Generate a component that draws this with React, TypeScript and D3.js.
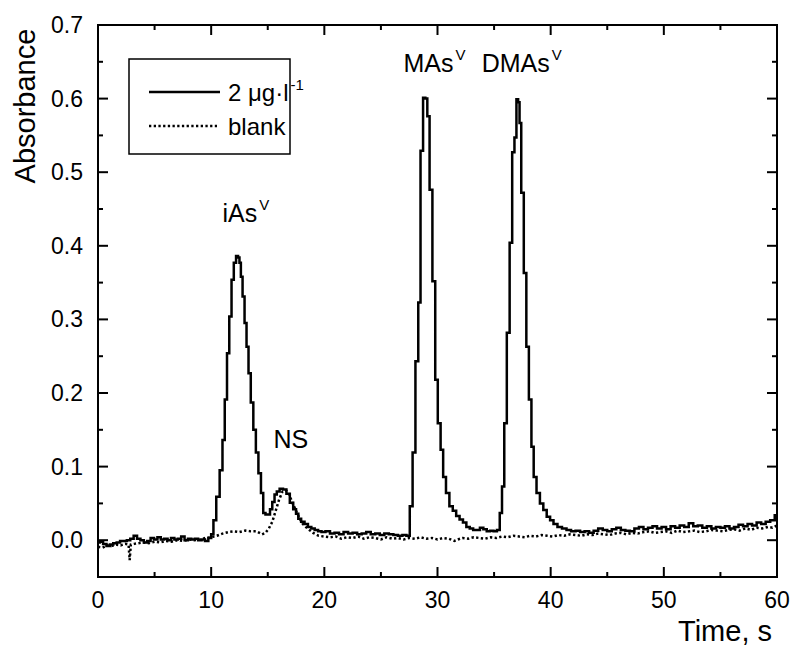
import React from "react";
import * as d3 from "d3";

// ---- data ----
const sampleTime = [
  0, 0.3, 0.6, 0.9, 1.2, 1.5, 1.8, 2.1, 2.4, 2.7, 3.0, 3.3, 3.6, 3.9, 4.2, 4.5, 4.8, 5.1, 5.4, 5.7,
  6.0, 6.3, 6.6, 6.9, 7.2, 7.5, 7.8, 8.1, 8.4, 8.7, 9.0, 9.3, 9.6, 9.9,
  10.1, 10.3, 10.6, 10.9, 11.1, 11.3, 11.5, 11.7, 11.9, 12.1, 12.3, 12.45, 12.55, 12.7, 12.85, 13.05,
  13.2, 13.4, 13.6, 13.85, 14.05, 14.3, 14.5, 14.7, 14.9, 15.1, 15.3, 15.5, 15.7, 15.9, 16.2, 16.5,
  16.8, 17.1, 17.4, 17.6, 17.8, 18.1, 18.4, 18.7, 19.0, 19.3, 19.6, 19.9, 20.3, 20.7, 21.1, 21.5,
  21.9, 22.3, 22.7, 23.1, 23.5, 23.9, 24.3, 24.7, 25.1, 25.5, 25.9, 26.3, 26.7, 27.1, 27.4,
  27.7, 27.9, 28.2, 28.4, 28.6, 28.85, 29.0, 29.2, 29.4, 29.7, 29.9, 30.15, 30.4, 30.6, 30.9, 31.2,
  31.5, 31.8, 32.1, 32.4, 32.7, 33.0, 33.3, 33.6, 33.9, 34.2, 34.5, 34.8, 35.1, 35.4,
  35.6, 35.8, 36.0, 36.25, 36.5, 36.7, 36.9, 37.05, 37.2, 37.3, 37.5, 37.75, 37.95, 38.2, 38.4, 38.6,
  38.9, 39.2, 39.5, 39.8, 40.1, 40.4, 40.8, 41.2, 41.6, 42.0, 42.4, 42.8, 43.2, 43.6, 44.0, 44.4,
  44.8, 45.2, 45.6, 46.0, 46.4, 46.8, 47.2, 47.6, 48.0, 48.4, 48.8, 49.2, 49.6, 50.0, 50.4, 50.8,
  51.2, 51.6, 52.0, 52.4, 52.8, 53.2, 53.6, 54.0, 54.4, 54.8, 55.2, 55.6, 56.0, 56.4, 56.8, 57.2,
  57.6, 58.0, 58.4, 58.8, 59.2, 59.6, 60.0,
];
const sampleAbs = [
  -0.003, -0.002, -0.005, -0.008, -0.006, -0.004, -0.003, -0.001, -0.001, 0.0, 0.002, 0.006, 0.002, 0.0, -0.003, -0.001, 0.003, 0.001, 0.004, 0.001,
  0.002, 0.0, 0.003, 0.001, 0.002, 0.005, 0.0, 0.002, 0.001, 0.002, 0.0, 0.001, -0.001, 0.003,
  0.008, 0.027, 0.059, 0.095, 0.136, 0.191, 0.254, 0.304, 0.354, 0.377, 0.386, 0.384, 0.377, 0.358, 0.331, 0.295,
  0.263, 0.227, 0.187, 0.15, 0.119, 0.091, 0.064, 0.037, 0.035, 0.035, 0.042, 0.052, 0.062, 0.066, 0.07, 0.069,
  0.063, 0.051, 0.042, 0.036, 0.029, 0.025, 0.022, 0.018, 0.016, 0.014, 0.012, 0.011, 0.012, 0.009, 0.01, 0.008,
  0.011, 0.009, 0.01, 0.008, 0.009, 0.011, 0.008, 0.009, 0.007, 0.009, 0.008, 0.007, 0.006, 0.007, 0.006,
  0.046, 0.119, 0.243, 0.323, 0.529, 0.601, 0.6, 0.576, 0.476, 0.352, 0.218, 0.159, 0.123, 0.086, 0.064, 0.046,
  0.04, 0.033, 0.028, 0.024, 0.018, 0.016, 0.014, 0.014, 0.017, 0.015, 0.012, 0.013, 0.012, 0.014,
  0.037, 0.073, 0.159, 0.282, 0.404, 0.527, 0.547, 0.599, 0.595, 0.567, 0.472, 0.363, 0.263, 0.191, 0.127, 0.086,
  0.064, 0.05, 0.041, 0.032, 0.027, 0.022, 0.018, 0.016, 0.014, 0.012, 0.013, 0.011, 0.012, 0.01, 0.013, 0.016,
  0.014, 0.012, 0.015, 0.017, 0.014, 0.013, 0.012, 0.016, 0.018, 0.015, 0.017, 0.019, 0.016, 0.018, 0.015, 0.019,
  0.017, 0.02, 0.018, 0.023, 0.019, 0.02, 0.017, 0.019, 0.016, 0.018, 0.017, 0.019, 0.016, 0.018, 0.021, 0.019,
  0.022, 0.02, 0.024, 0.022, 0.025, 0.027, 0.034,
];

const blankTime = [
  0, 0.4, 0.8, 1.2, 1.6, 2.0, 2.4, 2.7, 2.8, 2.9, 3.2, 3.6, 4.0, 4.5, 5.0, 5.5, 6.0, 6.5, 7.0, 7.5,
  8.0, 8.5, 9.0, 9.5, 10.0, 10.5, 11.0, 11.5, 12.0, 12.5, 13.0, 13.5, 14.0, 14.5, 14.8, 15.1, 15.4,
  15.7, 16.0, 16.3, 16.6, 16.9, 17.2, 17.5, 17.8, 18.1, 18.5, 19.0, 19.5, 20.0, 20.5, 21.0, 21.5,
  22.0, 22.5, 23.0, 23.5, 24.0, 24.5, 25.0, 25.5, 26.0, 26.5, 27.0, 27.5, 28.0, 28.5, 29.0, 29.5,
  30.0, 30.5, 31.0, 31.5, 31.8, 32.2, 32.7, 33.2, 33.7, 34.2, 34.7, 35.2, 35.7, 36.2, 36.7, 37.2,
  37.7, 38.2, 38.7, 39.2, 39.7, 40.2, 40.7, 41.2, 41.7, 42.2, 42.7, 43.2, 43.7, 44.2, 44.7, 45.2,
  45.7, 46.2, 46.7, 47.2, 47.7, 48.2, 48.7, 49.2, 49.7, 50.2, 50.7, 51.2, 51.7, 52.2, 52.7, 53.2,
  53.7, 54.2, 54.7, 55.2, 55.7, 56.2, 56.7, 57.2, 57.7, 58.2, 58.7, 59.2, 59.6, 60.0,
];
const blankAbs = [
  -0.009, -0.01, -0.007, -0.008, -0.006, -0.007, -0.005, -0.006, -0.027, -0.006, -0.005, -0.004, -0.003, -0.004, -0.002, -0.003, -0.001, -0.002, 0.0, -0.001,
  0.001, 0.0, 0.001, 0.003, 0.004, 0.006, 0.009, 0.011, 0.012, 0.011, 0.013, 0.012, 0.012, 0.008, 0.01, 0.016, 0.025,
  0.04, 0.055, 0.066, 0.068, 0.062, 0.05, 0.04, 0.03, 0.022, 0.016, 0.01, 0.006, 0.005, 0.004, 0.005, 0.002,
  0.004, 0.003, 0.005, 0.002, 0.004, 0.003, 0.001, 0.004, 0.002, 0.003, 0.001, 0.003, 0.002, 0.004, 0.002, 0.003,
  0.001, 0.003, 0.002, -0.001, 0.001, 0.003, 0.002, 0.004, 0.003, 0.002, 0.004, 0.003, 0.005, 0.004, 0.006, 0.005,
  0.004, 0.006, 0.005, 0.007, 0.006, 0.005, 0.007, 0.006, 0.008, 0.007, 0.006, 0.008, 0.007, 0.009, 0.008, 0.007,
  0.009, 0.01, 0.008, 0.01, 0.009, 0.011, 0.012, 0.01, 0.011, 0.012, 0.01, 0.013, 0.011, 0.012, 0.013, 0.011,
  0.012, 0.014, 0.013, 0.012, 0.014, 0.015, 0.013, 0.016, 0.014, 0.017, 0.016, 0.018, 0.017, 0.02,
];

const xMajorTicks = [0, 10, 20, 30, 40, 50, 60];
const xMinorTicks = [5, 15, 25, 35, 45, 55];
const yMajorTicks = [0, 0.1, 0.2, 0.3, 0.4, 0.5, 0.6, 0.7];
const yMinorTicks = [-0.05, 0.05, 0.15, 0.25, 0.35, 0.45, 0.55, 0.65];

const seriesLabels = ["2 μg·l", "blank"];
const peakLabels = [
  { name: "iAs", sup: "V", t: 11.0, v: 0.433 },
  { name: "NS", sup: "", t: 15.5, v: 0.125 },
  { name: "MAs", sup: "V", t: 27.0, v: 0.636 },
  { name: "DMAs", sup: "V", t: 33.9, v: 0.636 },
];

const FONT = "'Liberation Sans', Arial, Helvetica, sans-serif";

export default function App() {
  const W = 800;
  const H = 656;
  const left = 98;
  const right = 777;
  const top = 25;
  const bottom = 577;

  const x = d3.scaleLinear().domain([0, 60]).range([left, right]);
  const y = d3.scaleLinear().domain([-0.05, 0.7]).range([bottom, top]);

  const sample = sampleTime.map((t, i) => [t, sampleAbs[i]] as [number, number]);
  const blank = blankTime.map((t, i) => [t, blankAbs[i]] as [number, number]);

  const lineStep = d3
    .line<[number, number]>()
    .x((d) => x(d[0]))
    .y((d) => y(d[1]))
    .curve(d3.curveStep);
  const lineLin = d3
    .line<[number, number]>()
    .x((d) => x(d[0]))
    .y((d) => y(d[1]));

  const major = 10;
  const minor = 5;

  return (
    <svg
      width={W}
      height={H}
      style={{ position: "absolute", left: 0, top: 0, background: "#fff" }}
      fontFamily={FONT}
    >
      <rect x={0} y={0} width={W} height={H} fill="#fff" />
      <defs>
        <clipPath id="plot">
          <rect x={left} y={top} width={right - left} height={bottom - top} />
        </clipPath>
      </defs>

      {/* data */}
      <g clipPath="url(#plot)">
        <path
          d={lineLin(blank) || ""}
          fill="none"
          stroke="#000"
          strokeWidth={2.5}
          strokeDasharray="2.3,2.4"
        />
        <path d={lineStep(sample) || ""} fill="none" stroke="#000" strokeWidth={2.5} strokeLinejoin="miter" />
      </g>

      {/* frame */}
      <rect x={left} y={top} width={right - left} height={bottom - top} fill="none" stroke="#000" strokeWidth={2} />

      {/* x ticks */}
      {xMajorTicks.map((t) => (
        <g key={"xM" + t}>
          <line x1={x(t)} x2={x(t)} y1={bottom} y2={bottom - major} stroke="#000" strokeWidth={2} />
          <line x1={x(t)} x2={x(t)} y1={top} y2={top + major} stroke="#000" strokeWidth={2} />
          <text x={x(t)} y={608} fontSize={23} textAnchor="middle" fill="#000">
            {t}
          </text>
        </g>
      ))}
      {xMinorTicks.map((t) => (
        <g key={"xm" + t}>
          <line x1={x(t)} x2={x(t)} y1={bottom} y2={bottom - minor} stroke="#000" strokeWidth={2} />
          <line x1={x(t)} x2={x(t)} y1={top} y2={top + minor} stroke="#000" strokeWidth={2} />
        </g>
      ))}

      {/* y ticks */}
      {yMajorTicks.map((v) => (
        <g key={"yM" + v}>
          <line x1={left} x2={left + major} y1={y(v)} y2={y(v)} stroke="#000" strokeWidth={2} />
          <line x1={right} x2={right - major} y1={y(v)} y2={y(v)} stroke="#000" strokeWidth={2} />
          <text x={83} y={y(v) + 8} fontSize={23} textAnchor="end" fill="#000">
            {d3.format(".1f")(v)}
          </text>
        </g>
      ))}
      {yMinorTicks.map((v) => (
        <g key={"ym" + v}>
          <line x1={left} x2={left + minor} y1={y(v)} y2={y(v)} stroke="#000" strokeWidth={2} />
          <line x1={right} x2={right - minor} y1={y(v)} y2={y(v)} stroke="#000" strokeWidth={2} />
        </g>
      ))}

      {/* axis titles */}
      <text
        transform={`translate(35, 106) rotate(-90)`}
        fontSize={29}
        textAnchor="middle"
        fill="#000"
      >
        Absorbance
      </text>
      <text x={772} y={641} fontSize={29} textAnchor="end" fill="#000">
        Time, s
      </text>

      {/* legend */}
      <rect x={129} y={59} width={161} height={95} fill="#fff" stroke="#000" strokeWidth={1.5} />
      <line x1={149} x2={220} y1={92} y2={92} stroke="#000" strokeWidth={2.5} />
      <line x1={149} x2={217} y1={126} y2={126} stroke="#000" strokeWidth={2.5} strokeDasharray="2.3,2.4" />
      <text x={228} y={101} fontSize={24} fill="#000">
        {seriesLabels[0]}
        <tspan fontSize={15} dy={-11} dx={2}>-1</tspan>
      </text>
      <text x={228} y={135} fontSize={24} fill="#000">
        {seriesLabels[1]}
      </text>

      {/* peak labels */}
      {peakLabels.map((p) => (
        <text key={p.name} x={x(p.t)} y={y(p.v)} fontSize={25} fill="#000">
          {p.name}
          {p.sup ? (
            <tspan fontSize={15} dy={-12} dx={2}>
              {p.sup}
            </tspan>
          ) : null}
        </text>
      ))}
    </svg>
  );
}
